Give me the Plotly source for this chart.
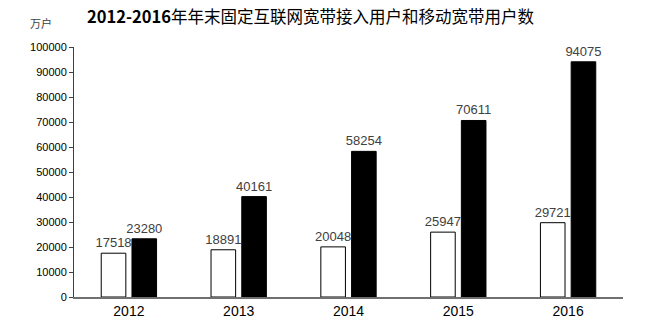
import plotly.graph_objects as go

years = ["2012", "2013", "2014", "2015", "2016"]
fixed_broadband = [17518, 18891, 20048, 25947, 29721]
mobile_broadband = [23280, 40161, 58254, 70611, 94075]
y_ticks = [0, 10000, 20000, 30000, 40000, 50000, 60000, 70000, 80000, 90000, 100000]

label_font = dict(family="Liberation Sans, Arial, sans-serif", size=13, color="#404040")

fig = go.Figure()
fig.add_trace(go.Bar(
    x=years, y=fixed_broadband, name="固定互联网宽带接入用户",
    marker=dict(color="white", line=dict(color="black", width=1)),
    text=[str(v) for v in fixed_broadband], textposition="outside",
    textfont=label_font, cliponaxis=False, constraintext="none",
))
fig.add_trace(go.Bar(
    x=years, y=mobile_broadband, name="移动宽带用户",
    marker=dict(color="black", line=dict(color="black", width=1)),
    text=[str(v) for v in mobile_broadband], textposition="outside",
    textfont=label_font, cliponaxis=False, constraintext="none",
))

fig.update_layout(
    width=654, height=335,
    margin=dict(l=74, r=31, t=47, b=38),
    paper_bgcolor="white", plot_bgcolor="white",
    showlegend=False,
    barmode="group", bargap=0.44, bargroupgap=0.2,
    font=dict(family="Liberation Sans, Arial, sans-serif", color="black"),
)
fig.update_yaxes(
    range=[0, 100000], tickvals=y_ticks, ticktext=[str(v) for v in y_ticks],
    showgrid=False, zeroline=False, showline=True, linecolor="#404040", linewidth=1,
    ticks="outside", ticklen=4, tickcolor="#404040",
    tickfont=dict(size=11, color="black"),
)
fig.update_xaxes(
    showgrid=False, showline=True, linecolor="#707070", linewidth=1.5, ticks="",
    tickfont=dict(size=14, color="black"),
)
fig.add_annotation(
    xref="paper", yref="paper", x=0.432, y=1.124, xanchor="center", yanchor="middle",
    text="<b>2012-2016</b>年年末固定互联网宽带接入用户和移动宽带用户数",
    showarrow=False, font=dict(family="Noto Sans CJK SC", size=16.5, color="black"),
)
fig.add_annotation(
    xref="paper", yref="paper", x=-0.06, y=1.096, xanchor="center", yanchor="middle",
    text="万户", showarrow=False,
    font=dict(family="Noto Sans CJK SC", size=11, color="#404040"),
)

fig.write_html("out.html")
